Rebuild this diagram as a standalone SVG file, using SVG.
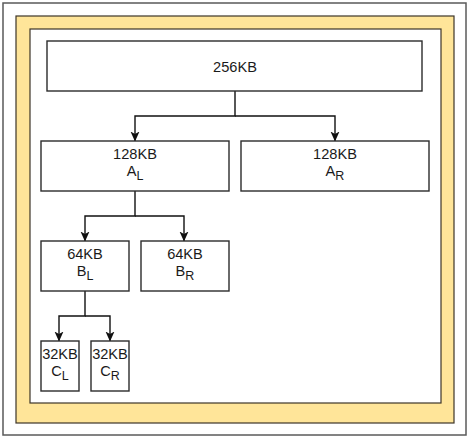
<svg xmlns="http://www.w3.org/2000/svg" width="468" height="438" viewBox="0 0 468 438">
<defs>
<style>
.box{fill:#ffffff;stroke:#2b2b2b;stroke-width:1.4}
.lbl{font-family:"Liberation Sans",Arial,sans-serif;font-size:14.6px;fill:#1a1a1a;text-anchor:middle}
.sub{font-size:12.5px}
.edge{fill:none;stroke:#111111;stroke-width:1.4}
</style>
<marker id="arr" viewBox="0 0 10 10" refX="9.5" refY="5" markerWidth="10" markerHeight="10" markerUnits="userSpaceOnUse" orient="auto">
<path d="M0,0.5 L10,5 L0,9.5 L2.5,5 Z" fill="#111111"/>
</marker>
</defs>
<rect x="0" y="0" width="468" height="438" fill="#ffffff"/>
<g id="frame">
<rect x="3" y="3" width="463" height="432" fill="#ffffff" stroke="#5a5a5a" stroke-width="1.5"/>
<rect x="16" y="16" width="438" height="407" fill="#ffe599" stroke="#3d3528" stroke-width="1.2"/>
<rect x="30" y="29" width="411" height="374" fill="#ffffff" stroke="#3d3528" stroke-width="1.2"/>
</g>
<g id="connectors">
<path class="edge" d="M235,91 V116 H135 V141" marker-end="url(#arr)"/>
<path class="edge" d="M235,116 H335 V141" marker-end="url(#arr)"/>
<path class="edge" d="M135,191 V216 H85 V241" marker-end="url(#arr)"/>
<path class="edge" d="M135,216 H184 V241" marker-end="url(#arr)"/>
<path class="edge" d="M85,291 V316 H59 V341" marker-end="url(#arr)"/>
<path class="edge" d="M85,316 H110 V341" marker-end="url(#arr)"/>
</g>
<g id="n256">
<rect class="box" x="47" y="41" width="375" height="50"/>
<text class="lbl" x="235" y="72">256KB</text>
</g>
<g id="nAL">
<rect class="box" x="41" y="141" width="188" height="50"/>
<text class="lbl" x="135" y="159">128KB</text>
<text class="lbl" x="135" y="176">A<tspan class="sub" dy="3.5">L</tspan></text>
</g>
<g id="nAR">
<rect class="box" x="241" y="141" width="188" height="50"/>
<text class="lbl" x="335" y="159">128KB</text>
<text class="lbl" x="335" y="176">A<tspan class="sub" dy="3.5">R</tspan></text>
</g>
<g id="nBL">
<rect class="box" x="41" y="241" width="88" height="50"/>
<text class="lbl" x="85" y="259">64KB</text>
<text class="lbl" x="85" y="276">B<tspan class="sub" dy="3.5">L</tspan></text>
</g>
<g id="nBR">
<rect class="box" x="141" y="241" width="88" height="50"/>
<text class="lbl" x="185" y="259">64KB</text>
<text class="lbl" x="185" y="276">B<tspan class="sub" dy="3.5">R</tspan></text>
</g>
<g id="nCL">
<rect class="box" x="41" y="341" width="38" height="50"/>
<text class="lbl" x="60" y="359">32KB</text>
<text class="lbl" x="60" y="376">C<tspan class="sub" dy="3.5">L</tspan></text>
</g>
<g id="nCR">
<rect class="box" x="91" y="341" width="38" height="50"/>
<text class="lbl" x="110" y="359">32KB</text>
<text class="lbl" x="110" y="376">C<tspan class="sub" dy="3.5">R</tspan></text>
</g>
</svg>
